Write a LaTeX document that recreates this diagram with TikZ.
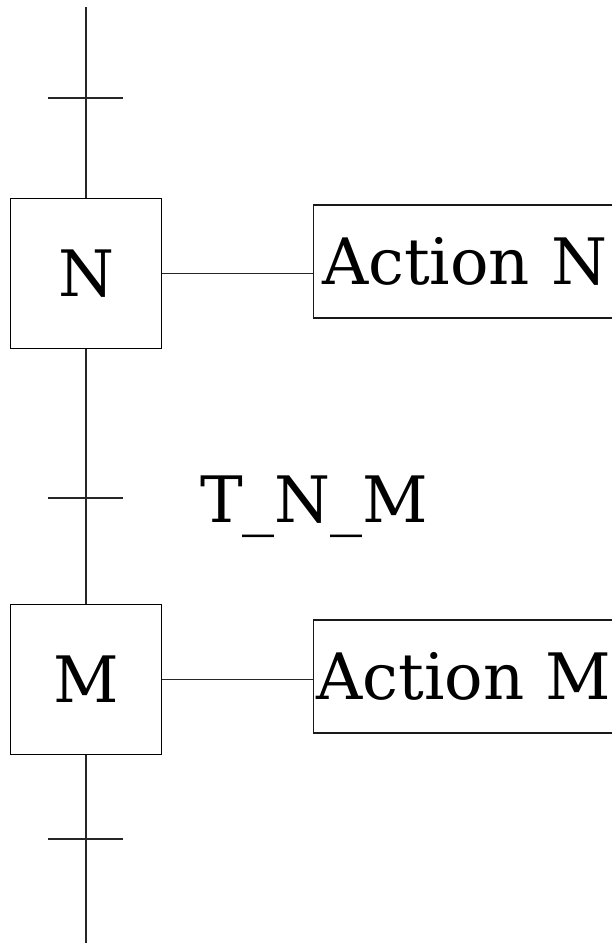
\documentclass[tikz,border=0pt]{standalone}
\usepackage{fontspec}
\setmainfont{DejaVu Serif}
\begin{document}
\begin{tikzpicture}[x=1pt,y=-1pt,
  every node/.style={font=\fontsize{64}{76}\selectfont},
  stepbox/.style={draw=black,line width=1.1pt,minimum width=151pt,minimum height=150pt,inner sep=0pt},
  actbox/.style={draw=black!90,line width=1.1pt,minimum height=113pt,text width=310pt,align=left,anchor=west,inner ysep=0pt},
  link/.style={draw=black!85,line width=1.1pt},
  tick/.style={draw=black!85,line width=1.1pt}]
\useasboundingbox (0,0) rectangle (612,943);
\clip (0,0) rectangle (612,943);
% steps
\node[stepbox] (N) at (86,273.5) {N};
\node[stepbox] (M) at (86,679.5) {M};
% actions
\node[actbox,inner xsep=9pt] (AN) at (312.5,261.5) {Action N};
\node[actbox,inner xsep=3.5pt] (AM) at (312.5,676.5) {Action M};
% transition label
\node[anchor=base west,inner sep=0pt] (TNM) at (200,522) {T\_N\_M};
% free ends and transitions
\coordinate (top) at (86,7);
\coordinate (bot) at (86,943);
\coordinate (t1l) at (48,98);  \coordinate (t1r) at (123,98);
\coordinate (t2l) at (48,498); \coordinate (t2r) at (123,498);
\coordinate (t3l) at (48,839); \coordinate (t3r) at (123,839);
% vertical links
\draw[link] (top) -- (N.north);
\draw[link] (N.south) -- (M.north);
\draw[link] (M.south) -- (bot);
% ticks
\draw[tick] (t1l) -- (t1r);
\draw[tick] (t2l) -- (t2r);
\draw[tick] (t3l) -- (t3r);
% action links
\draw[link] (N.east) -- (N.east -| AN.west);
\draw[link] (M.east) -- (M.east -| AM.west);
\end{tikzpicture}
\end{document}
